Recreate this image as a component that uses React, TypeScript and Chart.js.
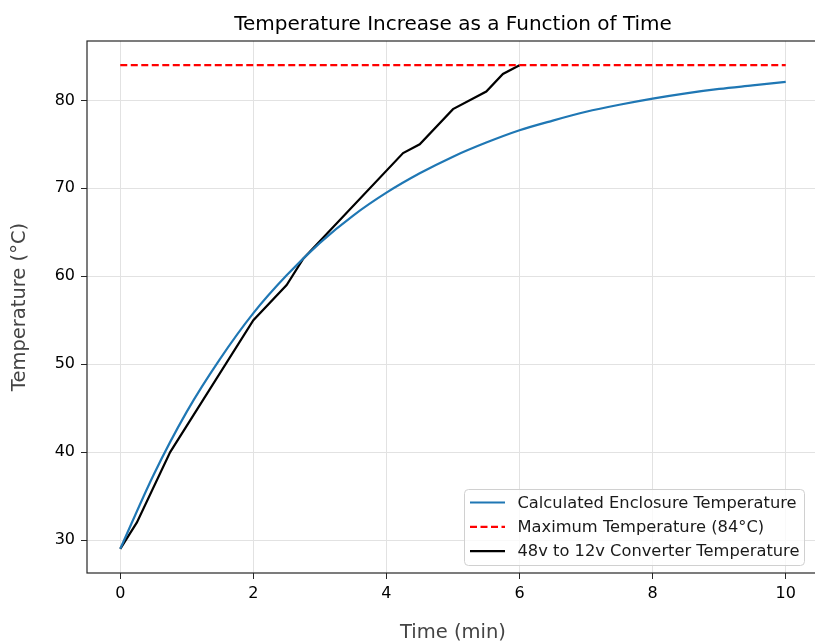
import React, { useEffect, useRef } from "react";
import { Chart, registerables } from "chart.js";

Chart.register(...registerables);

const titleText = "Temperature Increase as a Function of Time";
const xLabel = "Time (min)";
const yLabel = "Temperature (°C)";

const calcTimes = [0, 0.5, 1, 1.5, 2, 2.5, 3, 3.5, 4, 4.5, 5, 5.5, 6, 6.5, 7, 7.5, 8, 8.5, 9, 9.5, 10];
const calcTemps = [29, 37.4, 44.6, 50.6, 55.8, 60.1, 63.8, 66.9, 69.5, 71.7, 73.6, 75.2, 76.6, 77.7, 78.7, 79.5, 80.2, 80.8, 81.3, 81.7, 82.1];

const maxTimes = [0, 10];
const maxTemps = [84, 84];

const convTimes = [0, 0.25, 0.75, 2, 2.5, 2.75, 4.25, 4.5, 5, 5.5, 5.75, 6];
const convTemps = [29, 32, 40, 55, 59, 62, 74, 75, 79, 81, 83, 84];

const xTicks = [0, 2, 4, 6, 8, 10];
const yTicks = [30, 40, 50, 60, 70, 80];

const labels = ["Calculated Enclosure Temperature", "Maximum Temperature (84°C)", "48v to 12v Converter Temperature"];

const FONT = "'DejaVu Sans', sans-serif";

const toPts = (xs: number[], ys: number[]) => xs.map((x, i) => ({ x, y: ys[i] }));

const decorPlugin = {
  id: "decor",
  afterDraw(chart: any) {
    const { ctx, chartArea } = chart;
    const { left, top, right, bottom } = chartArea;
    ctx.save();
    // frame
    ctx.strokeStyle = "#262626";
    ctx.lineWidth = 1.2;
    ctx.strokeRect(left, top, right - left, bottom - top);
    // title
    ctx.fillStyle = "#000";
    ctx.font = `20px ${FONT}`;
    ctx.textAlign = "center";
    ctx.textBaseline = "middle";
    ctx.fillText(titleText, 453, 25);
    // axis labels
    ctx.fillStyle = "#444";
    ctx.font = `19.5px ${FONT}`;
    ctx.fillText(xLabel, 453, 633);
    ctx.translate(20, 307);
    ctx.rotate(-Math.PI / 2);
    ctx.fillText(yLabel, 0, 0);
    ctx.restore();

    // legend
    ctx.save();
    const lx = 464.5, ly = 489.5, lw = 340, lh = 76, r = 4;
    ctx.beginPath();
    ctx.moveTo(lx + r, ly);
    ctx.lineTo(lx + lw - r, ly);
    ctx.quadraticCurveTo(lx + lw, ly, lx + lw, ly + r);
    ctx.lineTo(lx + lw, ly + lh - r);
    ctx.quadraticCurveTo(lx + lw, ly + lh, lx + lw - r, ly + lh);
    ctx.lineTo(lx + r, ly + lh);
    ctx.quadraticCurveTo(lx, ly + lh, lx, ly + lh - r);
    ctx.lineTo(lx, ly + r);
    ctx.quadraticCurveTo(lx, ly, lx + r, ly);
    ctx.closePath();
    ctx.fillStyle = "rgba(255,255,255,0.8)";
    ctx.fill();
    ctx.strokeStyle = "#d0d0d0";
    ctx.lineWidth = 1;
    ctx.stroke();
    ctx.font = `16.3px ${FONT}`;
    ctx.textAlign = "left";
    ctx.textBaseline = "middle";
    chart.data.datasets.forEach((ds: any, i: number) => {
      const y = 502.5 + i * 24.3;
      ctx.beginPath();
      ctx.setLineDash(ds.borderDash || []);
      ctx.strokeStyle = ds.borderColor;
      ctx.lineWidth = ds.borderWidth;
      ctx.moveTo(470, y);
      ctx.lineTo(505, y);
      ctx.stroke();
      ctx.setLineDash([]);
      ctx.fillStyle = "#1a1a1a";
      ctx.fillText(ds.label, 517.5, y + 1);
    });
    ctx.restore();
  },
};

export default function App() {
  const ref = useRef<HTMLCanvasElement | null>(null);
  useEffect(() => {
    if (!ref.current) return;
    const chart = new Chart(ref.current, {
      type: "line",
      data: {
        datasets: [
          {
            label: labels[0],
            data: toPts(calcTimes, calcTemps),
            borderColor: "#1f77b4",
            borderWidth: 2.2,
            pointRadius: 0,
            cubicInterpolationMode: "monotone",
            fill: false,
          },
          {
            label: labels[1],
            data: toPts(maxTimes, maxTemps),
            borderColor: "#ff0000",
            borderWidth: 2.2,
            borderDash: [7, 3.5],
            pointRadius: 0,
            fill: false,
          },
          {
            label: labels[2],
            data: toPts(convTimes, convTemps),
            borderColor: "#000000",
            borderWidth: 2.2,
            pointRadius: 0,
            tension: 0,
            fill: false,
          },
        ],
      },
      options: {
        responsive: false,
        animation: false,
        layout: { padding: { left: 0, top: 41, right: 11, bottom: 0 } },
        plugins: { legend: { display: false }, title: { display: false }, tooltip: { enabled: false } },
        scales: {
          x: {
            type: "linear",
            min: -0.5,
            max: 10.5,
            afterBuildTicks: (s: any) => { s.ticks = xTicks.map((v) => ({ value: v })); },
            afterFit: (s: any) => { s.height = 70; },
            grid: { color: "#e2e2e2", lineWidth: 1, tickColor: "#262626", tickLength: 6, drawOnChartArea: true },
            border: { display: false },
            ticks: { color: "#000", font: { family: FONT, size: 16 }, padding: 5, maxRotation: 0 },
          },
          y: {
            type: "linear",
            min: 26.25,
            max: 86.75,
            afterBuildTicks: (s: any) => { s.ticks = yTicks.map((v) => ({ value: v })); },
            afterFit: (s: any) => { s.width = 87; },
            grid: { color: "#e2e2e2", lineWidth: 1, tickColor: "#262626", tickLength: 6 },
            border: { display: false },
            ticks: { color: "#000", font: { family: FONT, size: 16 }, padding: 6 },
          },
        },
      },
      plugins: [decorPlugin],
    } as any);
    return () => chart.destroy();
  }, []);
  return (
    <div style={{ position: "fixed", left: 0, top: 0, width: 815, height: 643, overflow: "hidden", background: "#fff" }}>
      <canvas ref={ref} width={830} height={643} style={{ display: "block" }} />
    </div>
  );
}
